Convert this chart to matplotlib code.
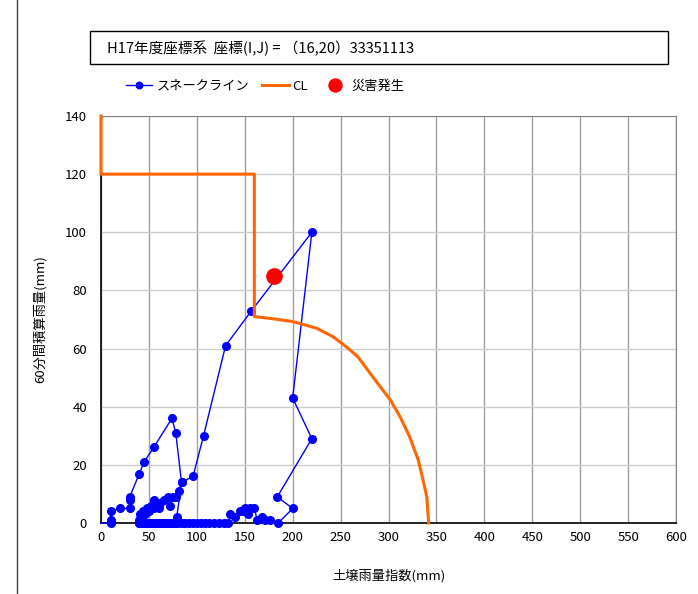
import numpy as np
import matplotlib
matplotlib.use("Agg")
import matplotlib.pyplot as plt
from matplotlib.lines import Line2D
from matplotlib.patches import Rectangle

plt.rcParams['font.family'] = ['Noto Sans CJK JP', 'DejaVu Sans']

# snake line (soil rain index, 60-min rainfall)
snake_x = [0, 10, 10, 10, 20, 30, 30, 30, 40, 45, 55, 74, 78, 84, 79, 78,
           74, 70, 66, 62, 58, 55, 52, 49, 46, 44, 42, 40,
           40, 41, 42, 44, 46, 48, 50, 52, 55, 55, 58, 60, 62, 66, 70, 72, 75, 78, 81, 84,
           96, 107, 130, 157, 220, 200, 220, 184, 200,
           185, 176, 171, 168, 163, 160, 155, 150, 153, 148, 145, 140, 135, 133,
           128, 123, 118, 113, 108, 104, 100, 96, 92, 88, 84, 80, 77, 74, 71, 68,
           65, 62, 59, 56, 53, 50, 48, 46, 44, 42, 40]
snake_y = [0, 0, 1, 4, 5, 5, 8, 9, 17, 21, 26, 36, 31, 14, 2, 0,
           0, 0, 0, 0, 0, 0, 0, 0, 0, 0, 0, 0,
           1, 3, 2, 4, 3, 5, 4, 6, 8, 5, 6, 5, 7, 8, 9, 6, 9, 9, 11, 14,
           16, 30, 61, 73, 100, 43, 29, 9, 5,
           0, 1, 1, 2, 1, 5, 5, 5, 3, 4, 4, 2, 3, 0,
           0, 0, 0, 0, 0, 0, 0, 0, 0, 0, 0, 0, 0, 0, 0, 0,
           0, 0, 0, 0, 0, 0, 0, 0, 0, 0, 0]

# critical line
cl_x = [0, 0, 160, 160, 176, 200, 225, 242, 256, 268, 286, 302, 312, 322, 331, 336, 340, 341, 342]
cl_y = [140, 120, 120, 71, 70.4, 69.3, 67, 64.1, 60.6, 57.2, 49.2, 42.3, 36.6, 29.7, 21.7, 14.8, 9, 4, 0]

# disaster occurrence
hit_x = [180]
hit_y = [85]

fig = plt.figure(figsize=(6.98, 5.94), dpi=100)
ax = fig.add_axes([101/698, 1-523/594, 575/698, 407/594])

ax.plot(snake_x, snake_y, color='#0000ff', lw=1, marker='o', ms=5.5,
        markevery=list(range(1, len(snake_x))),
        label='スネークライン', zorder=3, clip_on=False)
ax.plot(cl_x, cl_y, color='#ff6600', lw=2.2, label='CL', zorder=4, clip_on=False)
ax.plot(hit_x, hit_y, ls='none', marker='o', ms=11, color='#ff0000',
        label='災害発生', zorder=5)

ax.set_xlim(0, 600)
ax.set_ylim(0, 140)
ax.set_xticks(np.arange(0, 601, 50))
ax.set_yticks(np.arange(0, 141, 20))
ax.tick_params(length=0, labelsize=9.5)
ax.tick_params(axis='x', pad=6)
ax.tick_params(axis='y', pad=10)
ax.grid(axis='x', color='#a0a0a0', lw=1)
ax.grid(axis='y', color='#cccccc', lw=1)
ax.set_axisbelow(True)
for s in ['top', 'right']:
    ax.spines[s].set_color('#808080')
for s in ['left', 'bottom']:
    ax.spines[s].set_color('black')
    ax.spines[s].set_linewidth(1.2)

ax.set_xlabel('土壌雨量指数(mm)', fontsize=9.5, labelpad=18)
ax.set_ylabel('60分間積算雨量(mm)', fontsize=9.5, labelpad=13)

# title box
fig.patches.append(Rectangle((90/698, 1-64/594), 578/698, 33/594,
                             transform=fig.transFigure, fill=False,
                             edgecolor='black', lw=1))
fig.text(107/698, 1-48/594, 'H17年度座標系  座標(I,J) = （16,20）33351113',
         fontsize=10.5, va='center', ha='left')

leg = fig.legend(loc='center left', bbox_to_anchor=(114/698, 1-86/594), ncol=3,
                 frameon=False, fontsize=9.5, handlelength=2.0, columnspacing=1.0,
                 handletextpad=0.3, markerscale=0.85)

# outer frame line on the left
fig.add_artist(Line2D([17/698, 17/698], [0, 1], color='#404040', lw=1,
                      transform=fig.transFigure))

fig.savefig('out.png', dpi=100)
